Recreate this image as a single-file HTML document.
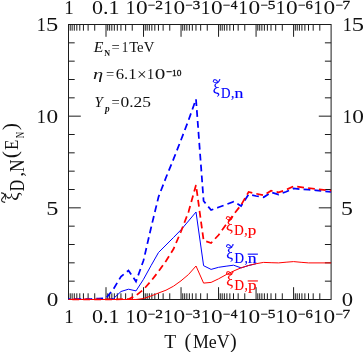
<!DOCTYPE html>
<html><head><meta charset="utf-8"><title>plot</title>
<style>
html,body{margin:0;padding:0;background:#fff;}
svg{display:block;will-change:transform;}
text{font-family:"Liberation Serif",serif;fill:#111;}
</style></head><body>
<svg width="364" height="352" viewBox="0 0 364 352">
<rect width="364" height="352" fill="#fff"/>
<path d="M94.72 24.50v6.2M94.72 299.50v-6.2M88.12 24.50v6.2M88.12 299.50v-6.2M83.43 24.50v6.2M83.43 299.50v-6.2M79.79 24.50v6.2M79.79 299.50v-6.2M76.82 24.50v6.2M76.82 299.50v-6.2M74.31 24.50v6.2M74.31 299.50v-6.2M72.14 24.50v6.2M72.14 299.50v-6.2M70.22 24.50v6.2M70.22 299.50v-6.2M106.01 24.50v12.3M106.01 299.50v-12.3M132.24 24.50v6.2M132.24 299.50v-6.2M125.63 24.50v6.2M125.63 299.50v-6.2M120.94 24.50v6.2M120.94 299.50v-6.2M117.31 24.50v6.2M117.31 299.50v-6.2M114.34 24.50v6.2M114.34 299.50v-6.2M111.83 24.50v6.2M111.83 299.50v-6.2M109.65 24.50v6.2M109.65 299.50v-6.2M107.73 24.50v6.2M107.73 299.50v-6.2M143.53 24.50v12.3M143.53 299.50v-12.3M169.75 24.50v6.2M169.75 299.50v-6.2M163.14 24.50v6.2M163.14 299.50v-6.2M158.46 24.50v6.2M158.46 299.50v-6.2M154.82 24.50v6.2M154.82 299.50v-6.2M151.85 24.50v6.2M151.85 299.50v-6.2M149.34 24.50v6.2M149.34 299.50v-6.2M147.16 24.50v6.2M147.16 299.50v-6.2M145.25 24.50v6.2M145.25 299.50v-6.2M181.04 24.50v12.3M181.04 299.50v-12.3M207.26 24.50v6.2M207.26 299.50v-6.2M200.66 24.50v6.2M200.66 299.50v-6.2M195.97 24.50v6.2M195.97 299.50v-6.2M192.34 24.50v6.2M192.34 299.50v-6.2M189.37 24.50v6.2M189.37 299.50v-6.2M186.85 24.50v6.2M186.85 299.50v-6.2M184.68 24.50v6.2M184.68 299.50v-6.2M182.76 24.50v6.2M182.76 299.50v-6.2M218.56 24.50v12.3M218.56 299.50v-12.3M244.78 24.50v6.2M244.78 299.50v-6.2M238.17 24.50v6.2M238.17 299.50v-6.2M233.49 24.50v6.2M233.49 299.50v-6.2M229.85 24.50v6.2M229.85 299.50v-6.2M226.88 24.50v6.2M226.88 299.50v-6.2M224.37 24.50v6.2M224.37 299.50v-6.2M222.19 24.50v6.2M222.19 299.50v-6.2M220.27 24.50v6.2M220.27 299.50v-6.2M256.07 24.50v12.3M256.07 299.50v-12.3M282.29 24.50v6.2M282.29 299.50v-6.2M275.69 24.50v6.2M275.69 299.50v-6.2M271.00 24.50v6.2M271.00 299.50v-6.2M267.36 24.50v6.2M267.36 299.50v-6.2M264.39 24.50v6.2M264.39 299.50v-6.2M261.88 24.50v6.2M261.88 299.50v-6.2M259.71 24.50v6.2M259.71 299.50v-6.2M257.79 24.50v6.2M257.79 299.50v-6.2M293.59 24.50v12.3M293.59 299.50v-12.3M319.81 24.50v6.2M319.81 299.50v-6.2M313.20 24.50v6.2M313.20 299.50v-6.2M308.51 24.50v6.2M308.51 299.50v-6.2M304.88 24.50v6.2M304.88 299.50v-6.2M301.91 24.50v6.2M301.91 299.50v-6.2M299.40 24.50v6.2M299.40 299.50v-6.2M297.22 24.50v6.2M297.22 299.50v-6.2M295.30 24.50v6.2M295.30 299.50v-6.2M68.50 281.17h6.2M331.10 281.17h-6.2M68.50 262.83h6.2M331.10 262.83h-6.2M68.50 244.50h6.2M331.10 244.50h-6.2M68.50 226.17h6.2M331.10 226.17h-6.2M68.50 207.83h12.3M331.10 207.83h-12.3M68.50 189.50h6.2M331.10 189.50h-6.2M68.50 171.17h6.2M331.10 171.17h-6.2M68.50 152.83h6.2M331.10 152.83h-6.2M68.50 134.50h6.2M331.10 134.50h-6.2M68.50 116.17h12.3M331.10 116.17h-12.3M68.50 97.83h6.2M331.10 97.83h-6.2M68.50 79.50h6.2M331.10 79.50h-6.2M68.50 61.17h6.2M331.10 61.17h-6.2M68.50 42.83h6.2M331.10 42.83h-6.2" stroke="#1c1c1c" stroke-width="1" fill="none"/>
<rect x="68.5" y="24.5" width="262.6" height="275.0" fill="none" stroke="#1c1c1c" stroke-width="1"/>
<polyline points="68.5,299.2 76.0,299.2 83.5,299.2 91.0,299.0 98.5,298.6 106.0,298.2 113.5,289.0 121.0,276.5 128.5,270.5 136.0,281.5 143.5,260.5 151.0,228.0 158.5,197.0 166.0,177.5 173.5,159.2 181.0,140.0 188.5,120.3 196.0,99.2 203.6,201.0 211.1,210.0 218.6,207.3 226.1,204.5 233.6,201.7 241.1,206.0 248.6,194.3 256.1,196.0 263.6,197.3 271.1,192.3 278.6,194.5 286.1,191.8 293.6,188.5 301.1,189.2 308.6,189.6 316.1,190.4 323.6,191.2 331.1,191.9" fill="none" stroke="#0000ff" stroke-width="1.75" stroke-dasharray="6.80 4.13" stroke-dashoffset="4.96"/>
<polyline points="68.5,299.5 106.0,299.5 113.5,298.5 121.0,291.5 128.5,289.2 136.0,290.9 143.5,279.3 151.0,265.7 158.5,252.5 166.0,245.0 173.5,237.5 181.0,229.8 188.5,221.0 196.0,212.0 203.6,265.7 211.1,269.4 218.6,267.3 226.1,266.2 233.6,265.2 241.1,267.9 248.6,265.5 256.1,263.7" fill="none" stroke="#0000ff" stroke-width="1"/>
<polyline points="68.5,299.5 128.5,299.2 136.0,295.5 143.5,289.5 151.0,281.0 158.5,271.5 166.0,261.0 173.5,249.0 181.0,231.5 188.5,212.0 196.0,185.0 203.6,240.5 211.1,243.0 218.6,235.0 226.1,224.5 233.6,214.5 241.1,205.0 248.6,192.0 256.1,193.7 263.6,195.3 271.1,190.7 278.6,192.3 286.1,189.8 293.6,186.3 331.1,190.7" fill="none" stroke="#ff0000" stroke-width="1.75" stroke-dasharray="6.80 4.13" stroke-dashoffset="7.09"/>
<polyline points="68.5,299.5 136.0,299.5 143.5,298.5 151.0,296.0 158.5,293.0 166.0,290.2 173.5,286.2 181.0,280.8 188.5,274.5 196.0,266.0 203.6,283.1 211.1,282.4 218.6,278.8 226.1,274.7 233.6,271.0 241.1,267.8 248.6,265.5 256.1,263.7 263.6,262.4 271.1,262.7 278.6,262.9 286.1,262.2 293.6,261.6 301.1,262.3 308.6,262.9 331.1,262.9" fill="none" stroke="#ff0000" stroke-width="1"/>
<text transform="translate(64.23,14.10) scale(0.971,1)" style="font-size:19.6px;fill:#111;">1</text>
<text transform="translate(92.06,14.10) scale(1.125,1)" style="font-size:19.6px;fill:#111;">0.1</text>
<text transform="translate(125.63,14.10) scale(0.985,1)" style="font-size:19.6px;fill:#111;">1</text>
<text transform="translate(136.04,14.10) scale(1.192,1)" style="font-size:19.6px;fill:#111;">0</text>
<text transform="translate(148.09,8.70) scale(1.075,1)" style="font-size:12.0px;fill:#111;stroke:#111;stroke-width:0.30;">−</text>
<text transform="translate(155.35,8.70) scale(1.289,1)" style="font-size:12.0px;fill:#111;stroke:#111;stroke-width:0.30;">2</text>
<text transform="translate(163.15,14.10) scale(0.985,1)" style="font-size:19.6px;fill:#111;">1</text>
<text transform="translate(173.55,14.10) scale(1.192,1)" style="font-size:19.6px;fill:#111;">0</text>
<text transform="translate(185.60,8.70) scale(1.075,1)" style="font-size:12.0px;fill:#111;stroke:#111;stroke-width:0.30;">−</text>
<text transform="translate(192.82,8.70) scale(1.251,1)" style="font-size:12.0px;fill:#111;stroke:#111;stroke-width:0.30;">3</text>
<text transform="translate(200.66,14.10) scale(0.985,1)" style="font-size:19.6px;fill:#111;">1</text>
<text transform="translate(211.07,14.10) scale(1.192,1)" style="font-size:19.6px;fill:#111;">0</text>
<text transform="translate(223.11,8.70) scale(1.075,1)" style="font-size:12.0px;fill:#111;stroke:#111;stroke-width:0.30;">−</text>
<text transform="translate(230.80,8.70) scale(1.111,1)" style="font-size:12.0px;fill:#111;stroke:#111;stroke-width:0.30;">4</text>
<text transform="translate(238.17,14.10) scale(0.985,1)" style="font-size:19.6px;fill:#111;">1</text>
<text transform="translate(248.58,14.10) scale(1.192,1)" style="font-size:19.6px;fill:#111;">0</text>
<text transform="translate(260.63,8.70) scale(1.075,1)" style="font-size:12.0px;fill:#111;stroke:#111;stroke-width:0.30;">−</text>
<text transform="translate(267.68,8.70) scale(1.283,1)" style="font-size:12.0px;fill:#111;stroke:#111;stroke-width:0.30;">5</text>
<text transform="translate(275.69,14.10) scale(0.985,1)" style="font-size:19.6px;fill:#111;">1</text>
<text transform="translate(286.10,14.10) scale(1.192,1)" style="font-size:19.6px;fill:#111;">0</text>
<text transform="translate(298.14,8.70) scale(1.075,1)" style="font-size:12.0px;fill:#111;stroke:#111;stroke-width:0.30;">−</text>
<text transform="translate(305.46,8.70) scale(1.209,1)" style="font-size:12.0px;fill:#111;stroke:#111;stroke-width:0.30;">6</text>
<text transform="translate(313.20,14.10) scale(0.985,1)" style="font-size:19.6px;fill:#111;">1</text>
<text transform="translate(323.61,14.10) scale(1.192,1)" style="font-size:19.6px;fill:#111;">0</text>
<text transform="translate(335.66,8.70) scale(1.075,1)" style="font-size:12.0px;fill:#111;stroke:#111;stroke-width:0.30;">−</text>
<text transform="translate(342.59,8.70) scale(1.275,1)" style="font-size:12.0px;fill:#111;stroke:#111;stroke-width:0.30;">7</text>
<text transform="translate(64.23,322.80) scale(0.971,1)" style="font-size:19.6px;fill:#111;">1</text>
<text transform="translate(92.06,322.80) scale(1.125,1)" style="font-size:19.6px;fill:#111;">0.1</text>
<text transform="translate(125.63,322.80) scale(0.985,1)" style="font-size:19.6px;fill:#111;">1</text>
<text transform="translate(136.04,322.80) scale(1.192,1)" style="font-size:19.6px;fill:#111;">0</text>
<text transform="translate(148.09,318.10) scale(1.075,1)" style="font-size:12.0px;fill:#111;stroke:#111;stroke-width:0.30;">−</text>
<text transform="translate(155.35,318.10) scale(1.289,1)" style="font-size:12.0px;fill:#111;stroke:#111;stroke-width:0.30;">2</text>
<text transform="translate(163.15,322.80) scale(0.985,1)" style="font-size:19.6px;fill:#111;">1</text>
<text transform="translate(173.55,322.80) scale(1.192,1)" style="font-size:19.6px;fill:#111;">0</text>
<text transform="translate(185.60,318.10) scale(1.075,1)" style="font-size:12.0px;fill:#111;stroke:#111;stroke-width:0.30;">−</text>
<text transform="translate(192.82,318.10) scale(1.251,1)" style="font-size:12.0px;fill:#111;stroke:#111;stroke-width:0.30;">3</text>
<text transform="translate(200.66,322.80) scale(0.985,1)" style="font-size:19.6px;fill:#111;">1</text>
<text transform="translate(211.07,322.80) scale(1.192,1)" style="font-size:19.6px;fill:#111;">0</text>
<text transform="translate(223.11,318.10) scale(1.075,1)" style="font-size:12.0px;fill:#111;stroke:#111;stroke-width:0.30;">−</text>
<text transform="translate(230.80,318.10) scale(1.111,1)" style="font-size:12.0px;fill:#111;stroke:#111;stroke-width:0.30;">4</text>
<text transform="translate(238.17,322.80) scale(0.985,1)" style="font-size:19.6px;fill:#111;">1</text>
<text transform="translate(248.58,322.80) scale(1.192,1)" style="font-size:19.6px;fill:#111;">0</text>
<text transform="translate(260.63,318.10) scale(1.075,1)" style="font-size:12.0px;fill:#111;stroke:#111;stroke-width:0.30;">−</text>
<text transform="translate(267.68,318.10) scale(1.283,1)" style="font-size:12.0px;fill:#111;stroke:#111;stroke-width:0.30;">5</text>
<text transform="translate(275.69,322.80) scale(0.985,1)" style="font-size:19.6px;fill:#111;">1</text>
<text transform="translate(286.10,322.80) scale(1.192,1)" style="font-size:19.6px;fill:#111;">0</text>
<text transform="translate(298.14,318.10) scale(1.075,1)" style="font-size:12.0px;fill:#111;stroke:#111;stroke-width:0.30;">−</text>
<text transform="translate(305.46,318.10) scale(1.209,1)" style="font-size:12.0px;fill:#111;stroke:#111;stroke-width:0.30;">6</text>
<text transform="translate(313.20,322.80) scale(0.985,1)" style="font-size:19.6px;fill:#111;">1</text>
<text transform="translate(323.61,322.80) scale(1.192,1)" style="font-size:19.6px;fill:#111;">0</text>
<text transform="translate(335.66,318.10) scale(1.075,1)" style="font-size:12.0px;fill:#111;stroke:#111;stroke-width:0.30;">−</text>
<text transform="translate(342.59,318.10) scale(1.275,1)" style="font-size:12.0px;fill:#111;stroke:#111;stroke-width:0.30;">7</text>
<text transform="translate(46.72,306.20) scale(1.180,1)" style="font-size:19.6px;fill:#111;">0</text>
<text transform="translate(341.64,306.20) scale(1.156,1)" style="font-size:19.6px;fill:#111;">0</text>
<text transform="translate(46.19,214.53) scale(1.241,1)" style="font-size:19.6px;fill:#111;">5</text>
<text transform="translate(341.12,214.53) scale(1.216,1)" style="font-size:19.6px;fill:#111;">5</text>
<text transform="translate(36.70,122.87) scale(0.928,1)" style="font-size:19.6px;fill:#111;">1</text>
<text transform="translate(46.51,122.87) scale(1.192,1)" style="font-size:19.6px;fill:#111;">0</text>
<text transform="translate(342.70,122.87) scale(0.928,1)" style="font-size:19.6px;fill:#111;">1</text>
<text transform="translate(352.31,122.87) scale(1.192,1)" style="font-size:19.6px;fill:#111;">0</text>
<text transform="translate(36.70,31.20) scale(0.928,1)" style="font-size:19.6px;fill:#111;">1</text>
<text transform="translate(45.97,31.20) scale(1.254,1)" style="font-size:19.6px;fill:#111;">5</text>
<text transform="translate(342.70,31.20) scale(0.928,1)" style="font-size:19.6px;fill:#111;">1</text>
<text transform="translate(351.77,31.20) scale(1.254,1)" style="font-size:19.6px;fill:#111;">5</text>
<text transform="translate(164.25,348.00) scale(0.992,1)" style="font-size:19.6px;fill:#111;">T</text>
<text transform="translate(184.51,348.00) scale(0.983,1)" style="font-size:20.6px;fill:#111;">(</text>
<text transform="translate(192.99,348.00) scale(0.911,1)" style="font-size:19.6px;fill:#111;">MeV</text>
<text transform="translate(229.95,348.00) scale(0.983,1)" style="font-size:20.6px;fill:#111;">)</text>
<g transform="rotate(-90)"><text transform="translate(-200.83,18.30) scale(0.999,1)" style="font-size:19.0px;fill:#111;">ξ</text><text transform="translate(-203.61,9.90) scale(0.995,1)" style="font-size:22.0px;fill:#111;">~</text><text transform="translate(-191.25,23.60) scale(0.762,1)" style="font-size:20.5px;fill:#111;">D</text><text transform="translate(-176.77,23.40) scale(1.033,1)" style="font-size:19.5px;fill:#111;">,</text><text transform="translate(-172.10,23.60) scale(0.844,1)" style="font-size:20.5px;fill:#111;">N</text><text transform="translate(-158.26,17.00) scale(1.038,1)" style="font-size:21.0px;fill:#111;">(</text><text transform="translate(-149.89,17.50) scale(0.890,1)" style="font-size:19.0px;fill:#111;">E</text><text transform="translate(-138.26,23.60) scale(0.663,1)" style="font-size:13.5px;fill:#111;">N</text><text transform="translate(-130.30,17.00) scale(1.038,1)" style="font-size:21.0px;fill:#111;">)</text></g>
<text transform="translate(93.79,52.20) scale(1.070,1)" style="font-size:14.8px;font-style:italic;fill:#111;">E</text>
<text transform="translate(104.25,56.20) scale(0.902,1)" style="font-size:9.0px;font-weight:bold;fill:#111;">N</text>
<text transform="translate(111.47,52.20) scale(0.987,1)" style="font-size:14.8px;fill:#111;">=</text>
<text transform="translate(121.65,52.20) scale(0.883,1)" style="font-size:14.8px;fill:#111;">1</text>
<text transform="translate(129.13,52.20) scale(0.998,1)" style="font-size:14.8px;fill:#111;">TeV</text>
<text transform="translate(93.07,79.30) scale(1.342,1)" style="font-size:15.3px;font-style:italic;fill:#111;">η</text>
<text transform="translate(106.07,79.30) scale(0.987,1)" style="font-size:14.8px;fill:#111;">=</text>
<text transform="translate(115.68,79.30) scale(1.131,1)" style="font-size:14.8px;fill:#111;">6.1</text>
<text transform="translate(137.04,79.60) scale(1.089,1)" style="font-size:15.8px;fill:#111;">×</text>
<text transform="translate(146.95,79.30) scale(0.960,1)" style="font-size:14.8px;fill:#111;">1</text>
<text transform="translate(154.79,79.30) scale(1.435,1)" style="font-size:14.8px;fill:#111;">0</text>
<text transform="translate(166.09,75.40) scale(1.121,1)" style="font-size:9.2px;fill:#111;stroke:#111;stroke-width:0.35;">−</text>
<text transform="translate(171.98,75.80) scale(1.020,1)" style="font-size:9.2px;fill:#111;stroke:#111;stroke-width:0.35;">10</text>
<text transform="translate(94.54,107.00) scale(1.011,1)" style="font-size:14.8px;font-style:italic;fill:#111;">Y</text>
<text transform="translate(105.06,112.00) scale(0.880,1)" style="font-size:10.5px;font-weight:bold;font-style:italic;fill:#111;">p</text>
<text transform="translate(111.47,107.00) scale(0.987,1)" style="font-size:14.8px;fill:#111;">=</text>
<text transform="translate(120.54,107.00) scale(1.179,1)" style="font-size:14.8px;fill:#111;">0.25</text>
<text transform="translate(212.73,94.40) scale(0.938,1)" style="font-size:16.3px;fill:#0000ff;stroke:#0000ff;stroke-width:0.15;">ξ</text><text transform="translate(212.39,86.30) scale(0.991,1)" style="font-size:15.0px;fill:#0000ff;stroke:#0000ff;stroke-width:0.30;">~</text><text transform="translate(221.02,98.20) scale(0.940,1)" style="font-size:14.0px;fill:#0000ff;stroke:#0000ff;stroke-width:0.15;">D</text><text transform="translate(231.09,98.20) scale(0.959,1)" style="font-size:14.0px;fill:#0000ff;stroke:#0000ff;stroke-width:0.15;">,</text><text transform="translate(234.39,98.20) scale(1.183,1)" style="font-size:15.0px;fill:#0000ff;stroke:#0000ff;stroke-width:0.15;">n</text>
<text transform="translate(225.93,230.80) scale(0.938,1)" style="font-size:16.3px;fill:#ff0000;stroke:#ff0000;stroke-width:0.15;">ξ</text><text transform="translate(225.59,222.70) scale(0.991,1)" style="font-size:15.0px;fill:#ff0000;stroke:#ff0000;stroke-width:0.30;">~</text><text transform="translate(234.22,234.60) scale(0.940,1)" style="font-size:14.0px;fill:#ff0000;stroke:#ff0000;stroke-width:0.15;">D</text><text transform="translate(244.29,234.60) scale(0.959,1)" style="font-size:14.0px;fill:#ff0000;stroke:#ff0000;stroke-width:0.15;">,</text><text transform="translate(247.72,234.60) scale(1.139,1)" style="font-size:15.0px;fill:#ff0000;stroke:#ff0000;stroke-width:0.15;">p</text>
<text transform="translate(226.13,258.90) scale(0.938,1)" style="font-size:16.3px;fill:#0000ff;stroke:#0000ff;stroke-width:0.15;">ξ</text><text transform="translate(225.79,250.80) scale(0.991,1)" style="font-size:15.0px;fill:#0000ff;stroke:#0000ff;stroke-width:0.30;">~</text><text transform="translate(234.42,262.70) scale(0.940,1)" style="font-size:14.0px;fill:#0000ff;stroke:#0000ff;stroke-width:0.15;">D</text><text transform="translate(244.49,262.70) scale(0.959,1)" style="font-size:14.0px;fill:#0000ff;stroke:#0000ff;stroke-width:0.15;">,</text><text transform="translate(247.79,262.70) scale(1.183,1)" style="font-size:15.0px;fill:#0000ff;stroke:#0000ff;stroke-width:0.15;">n</text><rect x="247.7" y="253.6" width="10.2" height="1.1" fill="#0000ff"/>
<text transform="translate(226.13,285.70) scale(0.938,1)" style="font-size:16.3px;fill:#ff0000;stroke:#ff0000;stroke-width:0.15;">ξ</text><text transform="translate(225.79,277.60) scale(0.991,1)" style="font-size:15.0px;fill:#ff0000;stroke:#ff0000;stroke-width:0.30;">~</text><text transform="translate(234.42,289.50) scale(0.940,1)" style="font-size:14.0px;fill:#ff0000;stroke:#ff0000;stroke-width:0.15;">D</text><text transform="translate(244.49,289.50) scale(0.959,1)" style="font-size:14.0px;fill:#ff0000;stroke:#ff0000;stroke-width:0.15;">,</text><text transform="translate(247.92,289.50) scale(1.139,1)" style="font-size:15.0px;fill:#ff0000;stroke:#ff0000;stroke-width:0.15;">p</text><rect x="247.7" y="280.4" width="10.2" height="1.1" fill="#ff0000"/>
</svg></body></html>
